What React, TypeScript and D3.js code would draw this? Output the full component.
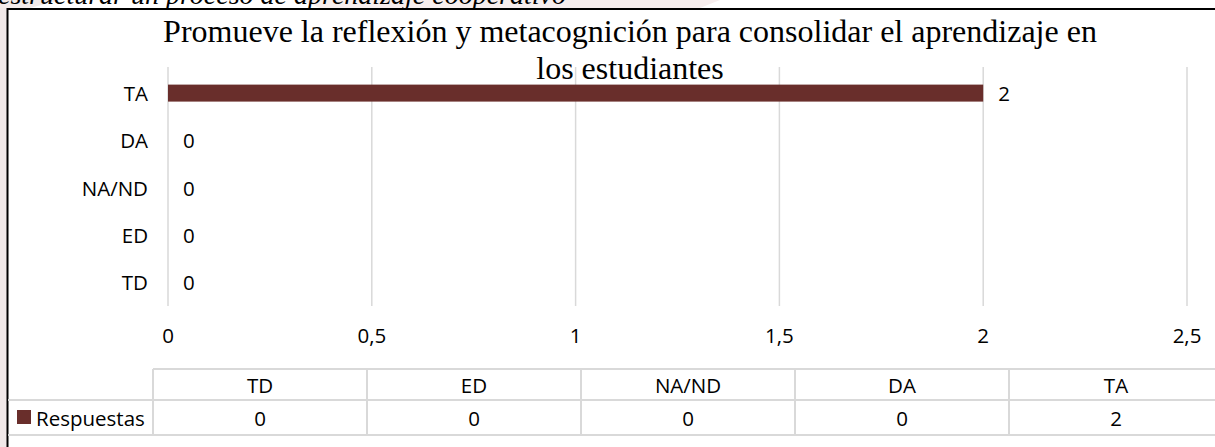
import React from "react";
import * as d3 from "d3";

// ---- data ----
const categories = ["TD", "ED", "NA/ND", "DA", "TA"];
const values = [0, 0, 0, 0, 2];
const xTicks = [0, 0.5, 1, 1.5, 2, 2.5];
const seriesName = "Respuestas";
const titleLines = [
  "Promueve la reflexión y metacognición para consolidar el aprendizaje en",
  "los estudiantes",
];
const captionText = "estructurar un proceso de aprendizaje cooperativo";

const W = 1215;
const H = 447;
const BAR = "#692e2b";
const GRID = "#d9d9d9";
const SANS = "'Open Sans', 'Noto Sans', sans-serif";
const SERIF = "'Liberation Serif', 'Times New Roman', serif";
const FS = 20.5;

const locale = d3.formatLocale({
  decimal: ",",
  thousands: ".",
  grouping: [3],
  currency: ["", "€"],
});
const fmt = locale.format("~g");

export default function App() {
  const x = d3.scaleLinear().domain([0, 2.5]).range([168, 1187]);
  const y = d3
    .scaleBand<string>()
    .domain([...categories].reverse())
    .range([69.5, 305.5])
    .paddingInner(0.64)
    .paddingOuter(0.32);
  const col = d3.scaleBand<string>().domain(categories).range([153, 1223]);

  const plotTop = 67;
  const plotBottom = 306;
  const tableTop = 369;
  const tableMid = 400;
  const tableBot = 435;

  return (
    <svg
      width={W}
      height={H}
      style={{ position: "absolute", left: 0, top: 0, background: "#fff" }}
    >
      {/* faint watermark around the frame */}
      <rect x={0} y={0} width={7} height={H} fill="#f1e9e9" />
      <polygon points="300,0 720,0 700,8 320,8" fill="#f7eeee" />
      <polygon points="0,0 60,0 30,8 0,8" fill="#f3ebeb" />

      {/* cut-off caption above the frame */}
      <text
        x={-2}
        y={4}
        fontFamily={SERIF}
        fontStyle="italic"
        fontSize={28}
        fill="#000"
      >
        {captionText}
      </text>

      {/* frame */}
      <line x1={7} x2={W} y1={9} y2={9} stroke="#000" strokeWidth={2} />
      <line x1={7.5} x2={7.5} y1={8} y2={H} stroke="#000" strokeWidth={2} />

      {/* gridlines */}
      {xTicks.map((t) => (
        <line
          key={"g" + t}
          x1={x(t)}
          x2={x(t)}
          y1={plotTop}
          y2={plotBottom}
          stroke={GRID}
          strokeWidth={1.5}
        />
      ))}

      {/* title */}
      {titleLines.map((line, i) => (
        <text
          key={"t" + i}
          x={630}
          y={42 + i * 37}
          textAnchor="middle"
          fontFamily={SERIF}
          fontSize={32}
          fill="#000"
        >
          {line}
        </text>
      ))}

      {/* bars */}
      {categories.map((c, i) => (
        <rect
          key={"b" + c}
          x={x(0)}
          y={y(c)!}
          width={Math.max(0, x(values[i]) - x(0))}
          height={y.bandwidth()}
          fill={BAR}
        />
      ))}

      {/* value labels */}
      {categories.map((c, i) => (
        <text
          key={"v" + c}
          x={x(values[i]) + 15}
          y={y(c)! + y.bandwidth() / 2}
          dominantBaseline="central"
          fontFamily={SANS}
          fontSize={FS}
          fill="#000"
        >
          {values[i]}
        </text>
      ))}

      {/* category labels */}
      {categories.map((c) => (
        <text
          key={"c" + c}
          x={148}
          y={y(c)! + y.bandwidth() / 2}
          textAnchor="end"
          dominantBaseline="central"
          fontFamily={SANS}
          fontSize={FS}
          fill="#000"
        >
          {c}
        </text>
      ))}

      {/* x tick labels */}
      {xTicks.map((t) => (
        <text
          key={"x" + t}
          x={x(t)}
          y={335}
          textAnchor="middle"
          dominantBaseline="central"
          fontFamily={SANS}
          fontSize={FS}
          fill="#000"
        >
          {fmt(t)}
        </text>
      ))}

      {/* data table */}
      <line x1={153} x2={W} y1={tableTop} y2={tableTop} stroke={GRID} strokeWidth={2} />
      <line x1={8} x2={W} y1={tableMid} y2={tableMid} stroke={GRID} strokeWidth={2} />
      <line x1={8} x2={W} y1={tableBot} y2={tableBot} stroke={GRID} strokeWidth={2} />
      {categories.map((c) => (
        <line
          key={"tv" + c}
          x1={col(c)!}
          x2={col(c)!}
          y1={tableTop}
          y2={tableBot}
          stroke={GRID}
          strokeWidth={2}
        />
      ))}
      {categories.map((c, i) => (
        <g key={"tc" + c}>
          <text
            x={col(c)! + col.bandwidth() / 2}
            y={(tableTop + tableMid) / 2}
            textAnchor="middle"
            dominantBaseline="central"
            fontFamily={SANS}
            fontSize={FS}
            fill="#000"
          >
            {c}
          </text>
          <text
            x={col(c)! + col.bandwidth() / 2}
            y={(tableMid + tableBot) / 2}
            textAnchor="middle"
            dominantBaseline="central"
            fontFamily={SANS}
            fontSize={FS}
            fill="#000"
          >
            {values[i]}
          </text>
        </g>
      ))}
      {/* legend key */}
      <rect x={17} y={410} width={14} height={14} fill={BAR} />
      <text
        x={36}
        y={(tableMid + tableBot) / 2}
        dominantBaseline="central"
        fontFamily={SANS}
        fontSize={FS}
        fill="#000"
      >
        {seriesName}
      </text>
    </svg>
  );
}
